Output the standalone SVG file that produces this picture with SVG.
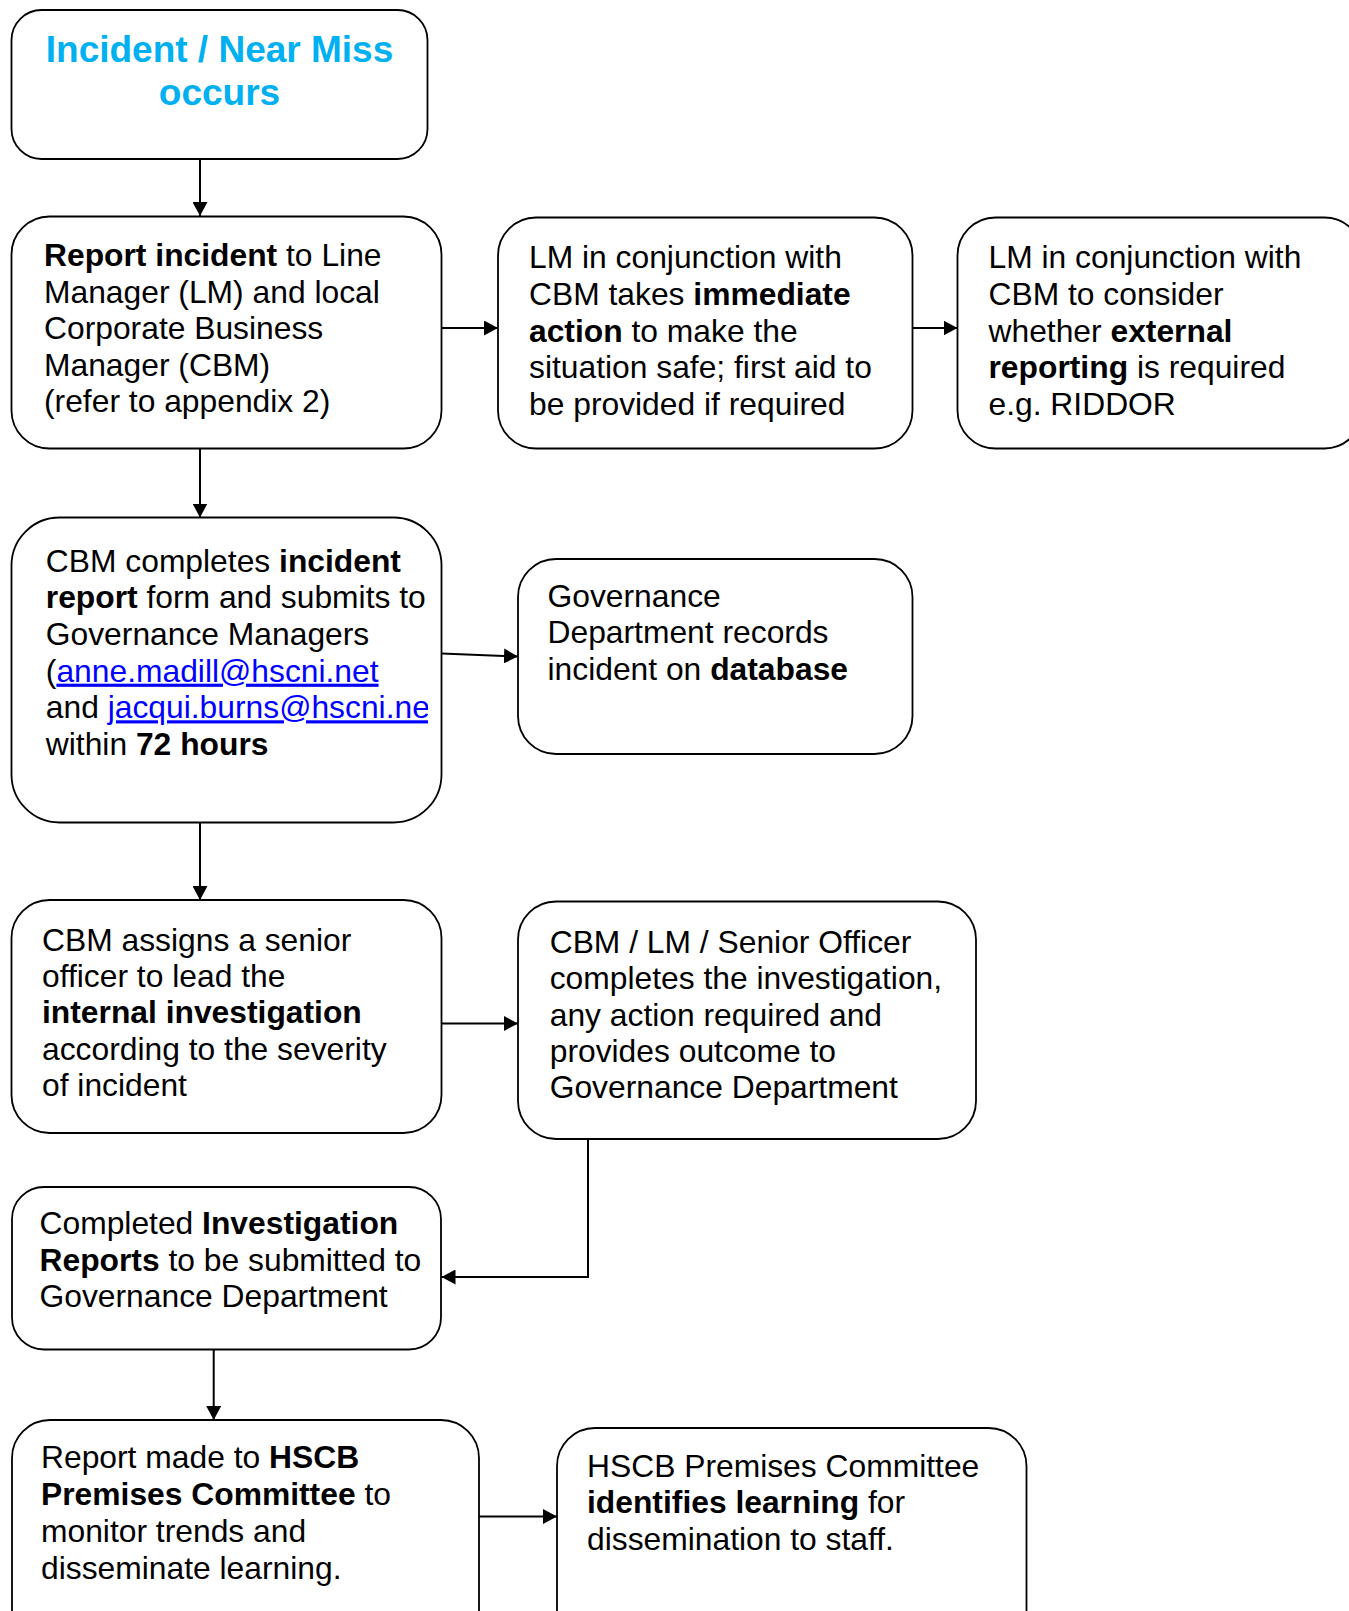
<svg xmlns="http://www.w3.org/2000/svg" width="1349" height="1611" viewBox="0 0 1349 1611">
<style>
  .box { fill: #ffffff; stroke: #000000; stroke-width: 1.8; }
  .conn { fill: none; stroke: #000000; stroke-width: 2; }
  .t { font-family: "Liberation Sans", Arial, sans-serif; font-size: 31.5px; fill: #000000; }
  .b { font-weight: bold; }
  .title { font-family: "Liberation Sans", Arial, sans-serif; font-size: 37px; font-weight: bold; fill: #00B0F0; text-anchor: middle; }
  .link { fill: #0000FF; text-decoration: underline; }
</style>
<defs>
  <marker id="arr" markerUnits="userSpaceOnUse" markerWidth="15" markerHeight="15" refX="14" refY="7.5" orient="auto">
    <path d="M0,0 L14,7.5 L0,15 z" fill="#000000"/>
  </marker>
  <clipPath id="clip5">
    <rect x="12" y="518" width="416" height="304"/>
  </clipPath>
</defs>
<rect width="1349" height="1611" fill="#ffffff"/>

<g id="connectors">
  <line class="conn" x1="200" y1="159" x2="200" y2="216" marker-end="url(#arr)"/>
  <line class="conn" x1="441.5" y1="328" x2="498" y2="328" marker-end="url(#arr)"/>
  <line class="conn" x1="912.5" y1="328" x2="957.5" y2="328" marker-end="url(#arr)"/>
  <line class="conn" x1="200" y1="448.5" x2="200" y2="517.5" marker-end="url(#arr)"/>
  <line class="conn" x1="441.5" y1="653.5" x2="518" y2="656.5" marker-end="url(#arr)"/>
  <line class="conn" x1="200" y1="822.5" x2="200" y2="900" marker-end="url(#arr)"/>
  <line class="conn" x1="441.5" y1="1023.5" x2="518" y2="1023.5" marker-end="url(#arr)"/>
  <polyline class="conn" points="588,1139 588,1277 441.5,1277" marker-end="url(#arr)"/>
  <line class="conn" x1="588" y1="1139" x2="734" y2="1139"/>
  <line class="conn" x1="213.7" y1="1349.5" x2="213.7" y2="1420" marker-end="url(#arr)"/>
  <line class="conn" x1="479" y1="1516.5" x2="557" y2="1516.5" marker-end="url(#arr)"/>
</g>

<g id="n1">
  <rect class="box" x="11.5" y="10" width="416" height="149" rx="30"/>
  <text class="title" x="219.5" y="61.5">Incident / Near Miss</text>
  <text class="title" x="219.5" y="105">occurs</text>
</g>

<g id="n2">
  <rect class="box" x="11.5" y="216.5" width="430" height="232" rx="38"/>
  <g transform="translate(44,0) scale(1.01,1)">
    <text class="t" y="266.5"><tspan x="0" class="b">Report incident</tspan> to Line</text>
    <text class="t" x="0" y="303">Manager (LM) and local</text>
    <text class="t" x="0" y="339.5">Corporate Business</text>
    <text class="t" x="0" y="376">Manager (CBM)</text>
    <text class="t" x="0" y="412.5">(refer to appendix 2)</text>
  </g>
</g>

<g id="n3">
  <rect class="box" x="498" y="217.5" width="414.5" height="231" rx="38"/>
  <g transform="translate(529,0) scale(1.01,1)">
    <text class="t" x="0" y="268.3">LM in conjunction with</text>
    <text class="t" x="0" y="305">CBM takes <tspan class="b">immediate</tspan></text>
    <text class="t" x="0" y="341.7"><tspan class="b">action</tspan> to make the</text>
    <text class="t" x="0" y="378.3">situation safe; first aid to</text>
    <text class="t" x="0" y="415">be provided if required</text>
  </g>
</g>

<g id="n4">
  <rect class="box" x="957.5" y="217.5" width="405" height="231" rx="38"/>
  <g transform="translate(988.5,0) scale(1.01,1)">
    <text class="t" x="0" y="268.3">LM in conjunction with</text>
    <text class="t" x="0" y="305">CBM to consider</text>
    <text class="t" x="0" y="341.7">whether <tspan class="b">external</tspan></text>
    <text class="t" x="0" y="378.3"><tspan class="b">reporting</tspan> is required</text>
    <text class="t" x="0" y="415">e.g. RIDDOR</text>
  </g>
</g>

<g id="n5">
  <rect class="box" x="11.5" y="517.5" width="430" height="305" rx="48"/>
  <g clip-path="url(#clip5)">
    <g transform="translate(45.8,0) scale(1.01,1)">
      <text class="t" x="0" y="571.7">CBM completes <tspan class="b">incident</tspan></text>
      <text class="t" x="0" y="608.3"><tspan class="b">report</tspan> form and submits to</text>
      <text class="t" x="0" y="645">Governance Managers</text>
      <text class="t" x="0" y="681.7">(<tspan class="link">anne.madill@hscni.net</tspan></text>
      <text class="t" x="0" y="718.3">and <tspan class="link">jacqui.burns@hscni.net</tspan></text>
      <text class="t" x="0" y="755">within <tspan class="b">72 hours</tspan></text>
    </g>
  </g>
</g>

<g id="n6">
  <rect class="box" x="518" y="559" width="394.5" height="195" rx="38"/>
  <g transform="translate(547.5,0) scale(1.01,1)">
    <text class="t" x="0" y="606.7">Governance</text>
    <text class="t" x="0" y="643.3">Department records</text>
    <text class="t" x="0" y="680">incident on <tspan class="b">database</tspan></text>
  </g>
</g>

<g id="n7">
  <rect class="box" x="11.5" y="900" width="430" height="233" rx="38"/>
  <g transform="translate(42,0) scale(1.01,1)">
    <text class="t" x="0" y="950.7">CBM assigns a senior</text>
    <text class="t" x="0" y="987.3">officer to lead the</text>
    <text class="t b" x="0" y="1023.3">internal investigation</text>
    <text class="t" x="0" y="1060">according to the severity</text>
    <text class="t" x="0" y="1096">of incident</text>
  </g>
</g>

<g id="n8">
  <rect class="box" x="518" y="901.5" width="458" height="237.5" rx="38"/>
  <g transform="translate(549.7,0) scale(1.01,1)">
    <text class="t" x="0" y="952.7">CBM / LM / Senior Officer</text>
    <text class="t" x="0" y="989.3">completes the investigation,</text>
    <text class="t" x="0" y="1025.7">any action required and</text>
    <text class="t" x="0" y="1061.7">provides outcome to</text>
    <text class="t" x="0" y="1098.3">Governance Department</text>
  </g>
</g>

<g id="n9">
  <rect class="box" x="12" y="1187" width="429" height="162.5" rx="32"/>
  <g transform="translate(39.5,0) scale(1.01,1)">
    <text class="t" x="0" y="1234">Completed <tspan class="b">Investigation</tspan></text>
    <text class="t" x="0" y="1270.7"><tspan class="b">Reports</tspan> to be submitted to</text>
    <text class="t" x="0" y="1307.3">Governance Department</text>
  </g>
</g>

<g id="n10">
  <rect class="box" x="12" y="1420" width="467" height="230" rx="38"/>
  <g transform="translate(41,0) scale(1.01,1)">
    <text class="t" x="0" y="1468.3">Report made to <tspan class="b">HSCB</tspan></text>
    <text class="t" x="0" y="1505"><tspan class="b">Premises Committee</tspan> to</text>
    <text class="t" x="0" y="1541.7">monitor trends and</text>
    <text class="t" x="0" y="1579.3">disseminate learning.</text>
  </g>
</g>

<g id="n11">
  <rect class="box" x="557" y="1428" width="469.5" height="230" rx="38"/>
  <g transform="translate(587,0) scale(1.01,1)">
    <text class="t" x="0" y="1476.7">HSCB Premises Committee</text>
    <text class="t" x="0" y="1513.3"><tspan class="b">identifies learning</tspan> for</text>
    <text class="t" x="0" y="1550">dissemination to staff.</text>
  </g>
</g>
</svg>
